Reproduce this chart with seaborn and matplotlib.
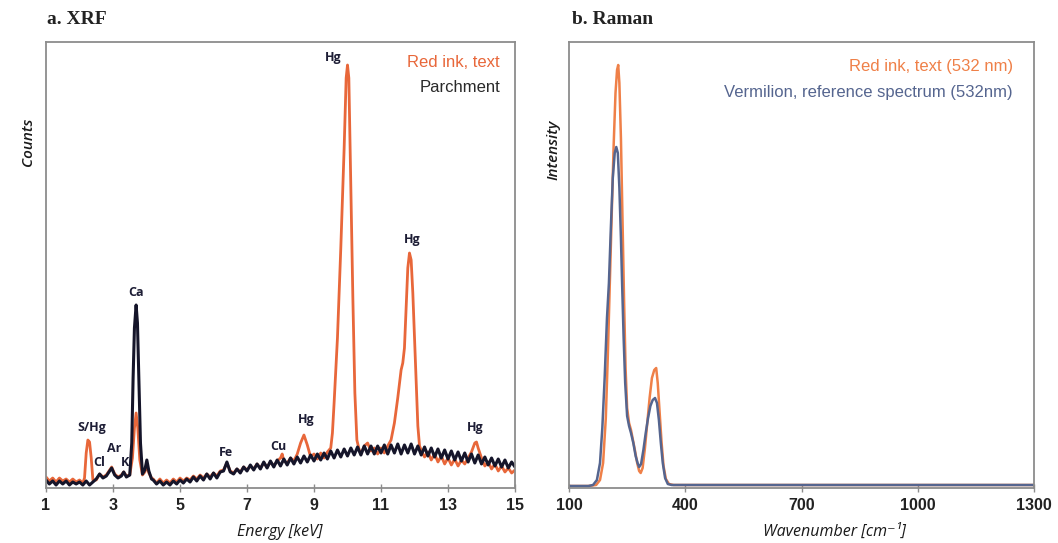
import numpy as np
import pandas as pd
import matplotlib
matplotlib.use("Agg")
import matplotlib.pyplot as plt
import seaborn as sns

# ---------------- XRF data (Energy keV, counts in arbitrary units) ----------------
xrf_parch_E = [1.0,1.1,1.2,1.3,1.4,1.5,1.6,1.7,1.8,1.9,2.0,2.1,2.2,2.3,2.4,2.5,2.6,2.7,2.8,2.9,2.96,3.05,3.15,3.25,3.32,3.4,3.5,
               3.56,3.6,3.64,3.69,3.73,3.77,3.82,3.88,3.95,4.01,4.07,4.15,
               4.2,4.3,4.4,4.5,4.6,4.7,4.8,4.9,5.0,5.1,5.2,5.3,5.4,5.5,5.6,5.7,5.8,5.9,6.0,6.1,6.2,6.3,6.4,6.5,6.6,6.7,6.8,6.9,
               7.0,7.1,7.2,7.3,7.4,7.5,7.6,7.7,7.8,7.9,8.0,8.1,8.2,8.3,8.4,8.5,8.6,8.7,8.8,8.9,9.0,9.1,9.2,9.3,9.4,9.5,9.6,9.7,9.8,9.9,
               10.0,10.1,10.2,10.3,10.4,10.5,10.6,10.7,10.8,10.9,11.0,11.1,11.2,11.3,11.4,11.5,11.6,11.7,11.8,11.9,12.0,12.1,12.2,12.3,
               12.4,12.5,12.6,12.7,12.8,12.9,13.0,13.1,13.2,13.3,13.4,13.5,13.6,13.7,13.8,13.9,14.0,14.1,14.2,14.3,14.4,14.5,14.6,14.7,
               14.8,14.9,15.0]
xrf_parch = [8,4,7,3,7,4,7,3,6,4,6,3,7,3,6,9,14,10,12,17,20,13,10,12,16,11,13,
             45,110,160,183,165,110,45,14,18,28,17,9,
             8,4,7,3,6,3,7,4,8,5,9,6,11,7,12,8,14,9,15,10,16,17,26,16,14,19,15,21,
             17,23,18,24,19,26,20,27,21,28,22,29,23,30,24,31,25,32,26,33,27,34,28,35,29,37,30,38,31,39,
             32,40,33,41,33,42,34,42,34,42,35,43,34,43,35,44,34,43,35,44,34,42,33,41,
             32,40,31,39,30,38,29,37,28,36,27,35,26,34,25,33,24,31,23,30,22,29,21,28,
             20,26,21]

xrf_ink_E = [1.0,1.1,1.2,1.3,1.4,1.5,1.6,1.7,1.8,1.9,2.0,2.1,2.15,2.2,2.25,2.3,2.35,2.4,2.5,2.6,2.7,2.8,2.9,2.96,3.05,3.15,3.25,
             3.32,3.4,3.5,3.58,3.64,3.69,3.74,3.8,3.88,3.95,4.01,4.07,4.15,
             4.2,4.3,4.4,4.5,4.6,4.7,4.8,4.9,5.0,5.1,5.2,5.3,5.4,5.5,5.6,5.7,5.8,5.9,6.0,6.1,6.2,6.3,6.4,6.5,6.6,6.7,6.8,6.9,
             7.0,7.1,7.2,7.3,7.4,7.5,7.6,7.7,7.8,7.9,8.0,8.05,8.1,8.2,8.3,8.4,8.5,8.6,8.7,8.8,8.9,9.0,9.1,9.2,9.3,9.4,9.5,
             9.55,9.6,9.7,9.8,9.9,9.96,10.0,10.04,10.1,10.16,10.22,10.28,
             10.35,10.4,10.5,10.6,10.7,10.8,10.9,11.0,11.1,11.2,
             11.3,11.4,11.5,11.6,11.65,11.7,11.75,11.8,11.85,11.9,11.95,12.0,12.05,12.1,12.15,
             12.2,12.3,12.4,12.5,12.6,12.7,12.8,12.9,13.0,13.1,13.2,13.3,13.4,13.5,13.6,13.7,13.8,13.85,13.9,
             14.0,14.1,14.2,14.3,14.4,14.5,14.6,14.7,14.8,14.9,15.0]
xrf_ink = [11,7,10,6,10,7,9,6,9,6,8,5,10,35,48,46,30,8,8,14,11,13,18,21,14,11,13,
           16,12,13,30,60,75,60,28,13,16,22,15,10,
           9,5,9,5,8,5,9,6,10,7,10,8,12,9,13,10,14,11,15,12,17,18,25,17,15,19,16,21,
           18,22,19,24,20,25,21,26,22,27,30,34,27,25,30,27,34,45,53,43,31,34,29,35,30,36,40,
           55,85,150,240,340,410,423,410,300,190,95,48,
           38,34,42,45,37,40,34,40,35,42,
           48,65,90,118,125,140,180,220,235,228,195,150,105,62,42,
           38,31,36,28,34,26,32,24,30,23,29,22,28,24,30,36,45,46,40,
           30,22,26,19,24,17,22,16,20,15,18]

xrf_ticks = [1, 3, 5, 7, 9, 11, 13, 15]
xrf_labels = [("Hg", 9.56, 430), ("Hg", 11.92, 248), ("Hg", 13.8, 61), ("Hg", 8.78, 68),
              ("Cu", 7.94, 41), ("Fe", 6.38, 35), ("Ca", 3.69, 196), ("S/Hg", 2.38, 60),
              ("Cl", 2.59, 26), ("Ar", 3.03, 40), ("K", 3.36, 25)]

# ---------------- Raman data (wavenumber cm-1, intensity a.u.) ----------------
raman_ink_w = [100,150,170,180,188,195,200,205,210,215,220,224,227,230,234,238,242,246,250,255,260,265,270,276,281,285,
               290,296,302,308,314,320,325,329,334,339,344,350,358,370,400,500,600,700,800,900,1000,1100,1200,1300]
raman_ink = [2,2,3,8,25,70,130,200,270,340,395,418,423,405,350,270,190,120,80,65,58,48,38,25,17,15,
             20,40,65,90,110,118,120,105,75,45,22,9,4,3,3,3,3,3,3,3,3,3,3,3]
raman_ref_w = [100,150,162,172,180,186,192,198,203,208,213,218,222,226,230,234,237,241,245,250,255,260,266,272,277,281,
               286,292,298,304,310,316,322,327,332,337,342,348,355,365,400,500,600,700,800,900,1000,1100,1200,1300]
raman_ref = [2,2,3,8,25,60,110,170,205,260,310,335,341,335,300,250,205,150,105,72,62,55,45,32,25,21,
             24,38,55,70,82,88,90,85,68,45,25,10,4,3,3,3,3,3,3,3,3,3,3,3]
raman_ticks = [100, 400, 700, 1000, 1300]

# ---------------- style ----------------
sns.set_style("white")
plt.rcParams["font.family"] = ["Liberation Sans", "DejaVu Sans"]

ORANGE = "#e8673a"
DARK = "#15152a"
R_ORANGE = "#ef8048"
R_BLUE = "#55658f"
FRAME = "#8c8c8c"

W, H = 1058, 543
fig = plt.figure(figsize=(W / 100, H / 100), dpi=100)
ax1 = fig.add_axes([46 / W, (H - 488) / H, 469 / W, 446 / H])
ax2 = fig.add_axes([569 / W, (H - 488) / H, 465 / W, 446 / H])

df_parch = pd.DataFrame({"E": xrf_parch_E, "c": xrf_parch})
df_ink = pd.DataFrame({"E": xrf_ink_E, "c": xrf_ink})
sns.lineplot(data=df_ink, x="E", y="c", ax=ax1, color=ORANGE, lw=2.0, estimator=None, sort=False)
sns.lineplot(data=df_parch, x="E", y="c", ax=ax1, color=DARK, lw=2.2, estimator=None, sort=False)

df_rr = pd.DataFrame({"w": raman_ref_w, "i": raman_ref})
df_ri = pd.DataFrame({"w": raman_ink_w, "i": raman_ink})
sns.lineplot(data=df_ri, x="w", y="i", ax=ax2, color=R_ORANGE, lw=1.8, estimator=None, sort=False)
sns.lineplot(data=df_rr, x="w", y="i", ax=ax2, color=R_BLUE, lw=1.8, estimator=None, sort=False)

ax1.set_xlim(1, 15)
ax1.set_ylim(0, 446)
ax2.set_xlim(100, 1300)
ax2.set_ylim(0, 446)

for ax, ticks in ((ax1, xrf_ticks), (ax2, raman_ticks)):
    ax.set_xticks(ticks)
    ax.set_xticklabels([str(t) for t in ticks], fontsize=11.5, color="#222222", fontweight="bold")
    ax.set_yticks([])
    ax.set_xlabel("")
    ax.set_ylabel("")
    ax.tick_params(axis="x", direction="inout", length=6, width=1, color=FRAME, pad=4, bottom=True)
    for s in ax.spines.values():
        s.set_color(FRAME)
        s.set_linewidth(1.3)
        s.set_visible(True)

# peak labels
for txt, x, y in xrf_labels:
    ax1.text(x, y, txt, ha="center", va="center", fontsize=9, color="#1d1d35",
             family=["Open Sans", "DejaVu Sans"], fontweight="bold")

# legends as text
ax1.text(0.968, 0.955, "Red ink, text", transform=ax1.transAxes, ha="right", va="center",
         fontsize=12, color=ORANGE)
ax1.text(0.968, 0.899, "Parchment", transform=ax1.transAxes, ha="right", va="center",
         fontsize=12, color="#2a2a2a")
ax2.text(0.955, 0.944, "Red ink, text (532 nm)", transform=ax2.transAxes, ha="right", va="center",
         fontsize=12, color=R_ORANGE)
ax2.text(0.955, 0.886, "Vermilion, reference spectrum (532nm)", transform=ax2.transAxes, ha="right",
         va="center", fontsize=12, color=R_BLUE)

# axis labels
fig.text(280 / W, 1 - 532 / H, "Energy [keV]", ha="center", va="center", fontsize=11.5,
         style="italic", family=["Open Sans", "DejaVu Sans"], color="#1a1a1a")
fig.text(834 / W, 1 - 532 / H, "Wavenumber [cm\u207b\u00b9]", ha="center", va="center", fontsize=11.5,
         style="italic", family=["Open Sans", "DejaVu Sans"], color="#1a1a1a")
fig.text(28 / W, 1 - 142 / H, "Counts", ha="center", va="center", rotation=90, fontsize=11,
         style="italic", fontweight="semibold", family=["Open Sans", "DejaVu Sans"], color="#1a1a1a")
fig.text(553 / W, 1 - 150 / H, "Intensity", ha="center", va="center", rotation=90, fontsize=11,
         style="italic", fontweight="semibold", family=["Open Sans", "DejaVu Sans"], color="#1a1a1a")

# panel titles
fig.text(47 / W, 1 - 20 / H, "a. XRF", ha="left", va="center", fontsize=14, fontweight="bold",
         family=["Liberation Serif", "DejaVu Serif"], color="#222222")
fig.text(572 / W, 1 - 20 / H, "b. Raman", ha="left", va="center", fontsize=14, fontweight="bold",
         family=["Liberation Serif", "DejaVu Serif"], color="#222222")

fig.savefig("out.png", dpi=100, facecolor="white")
